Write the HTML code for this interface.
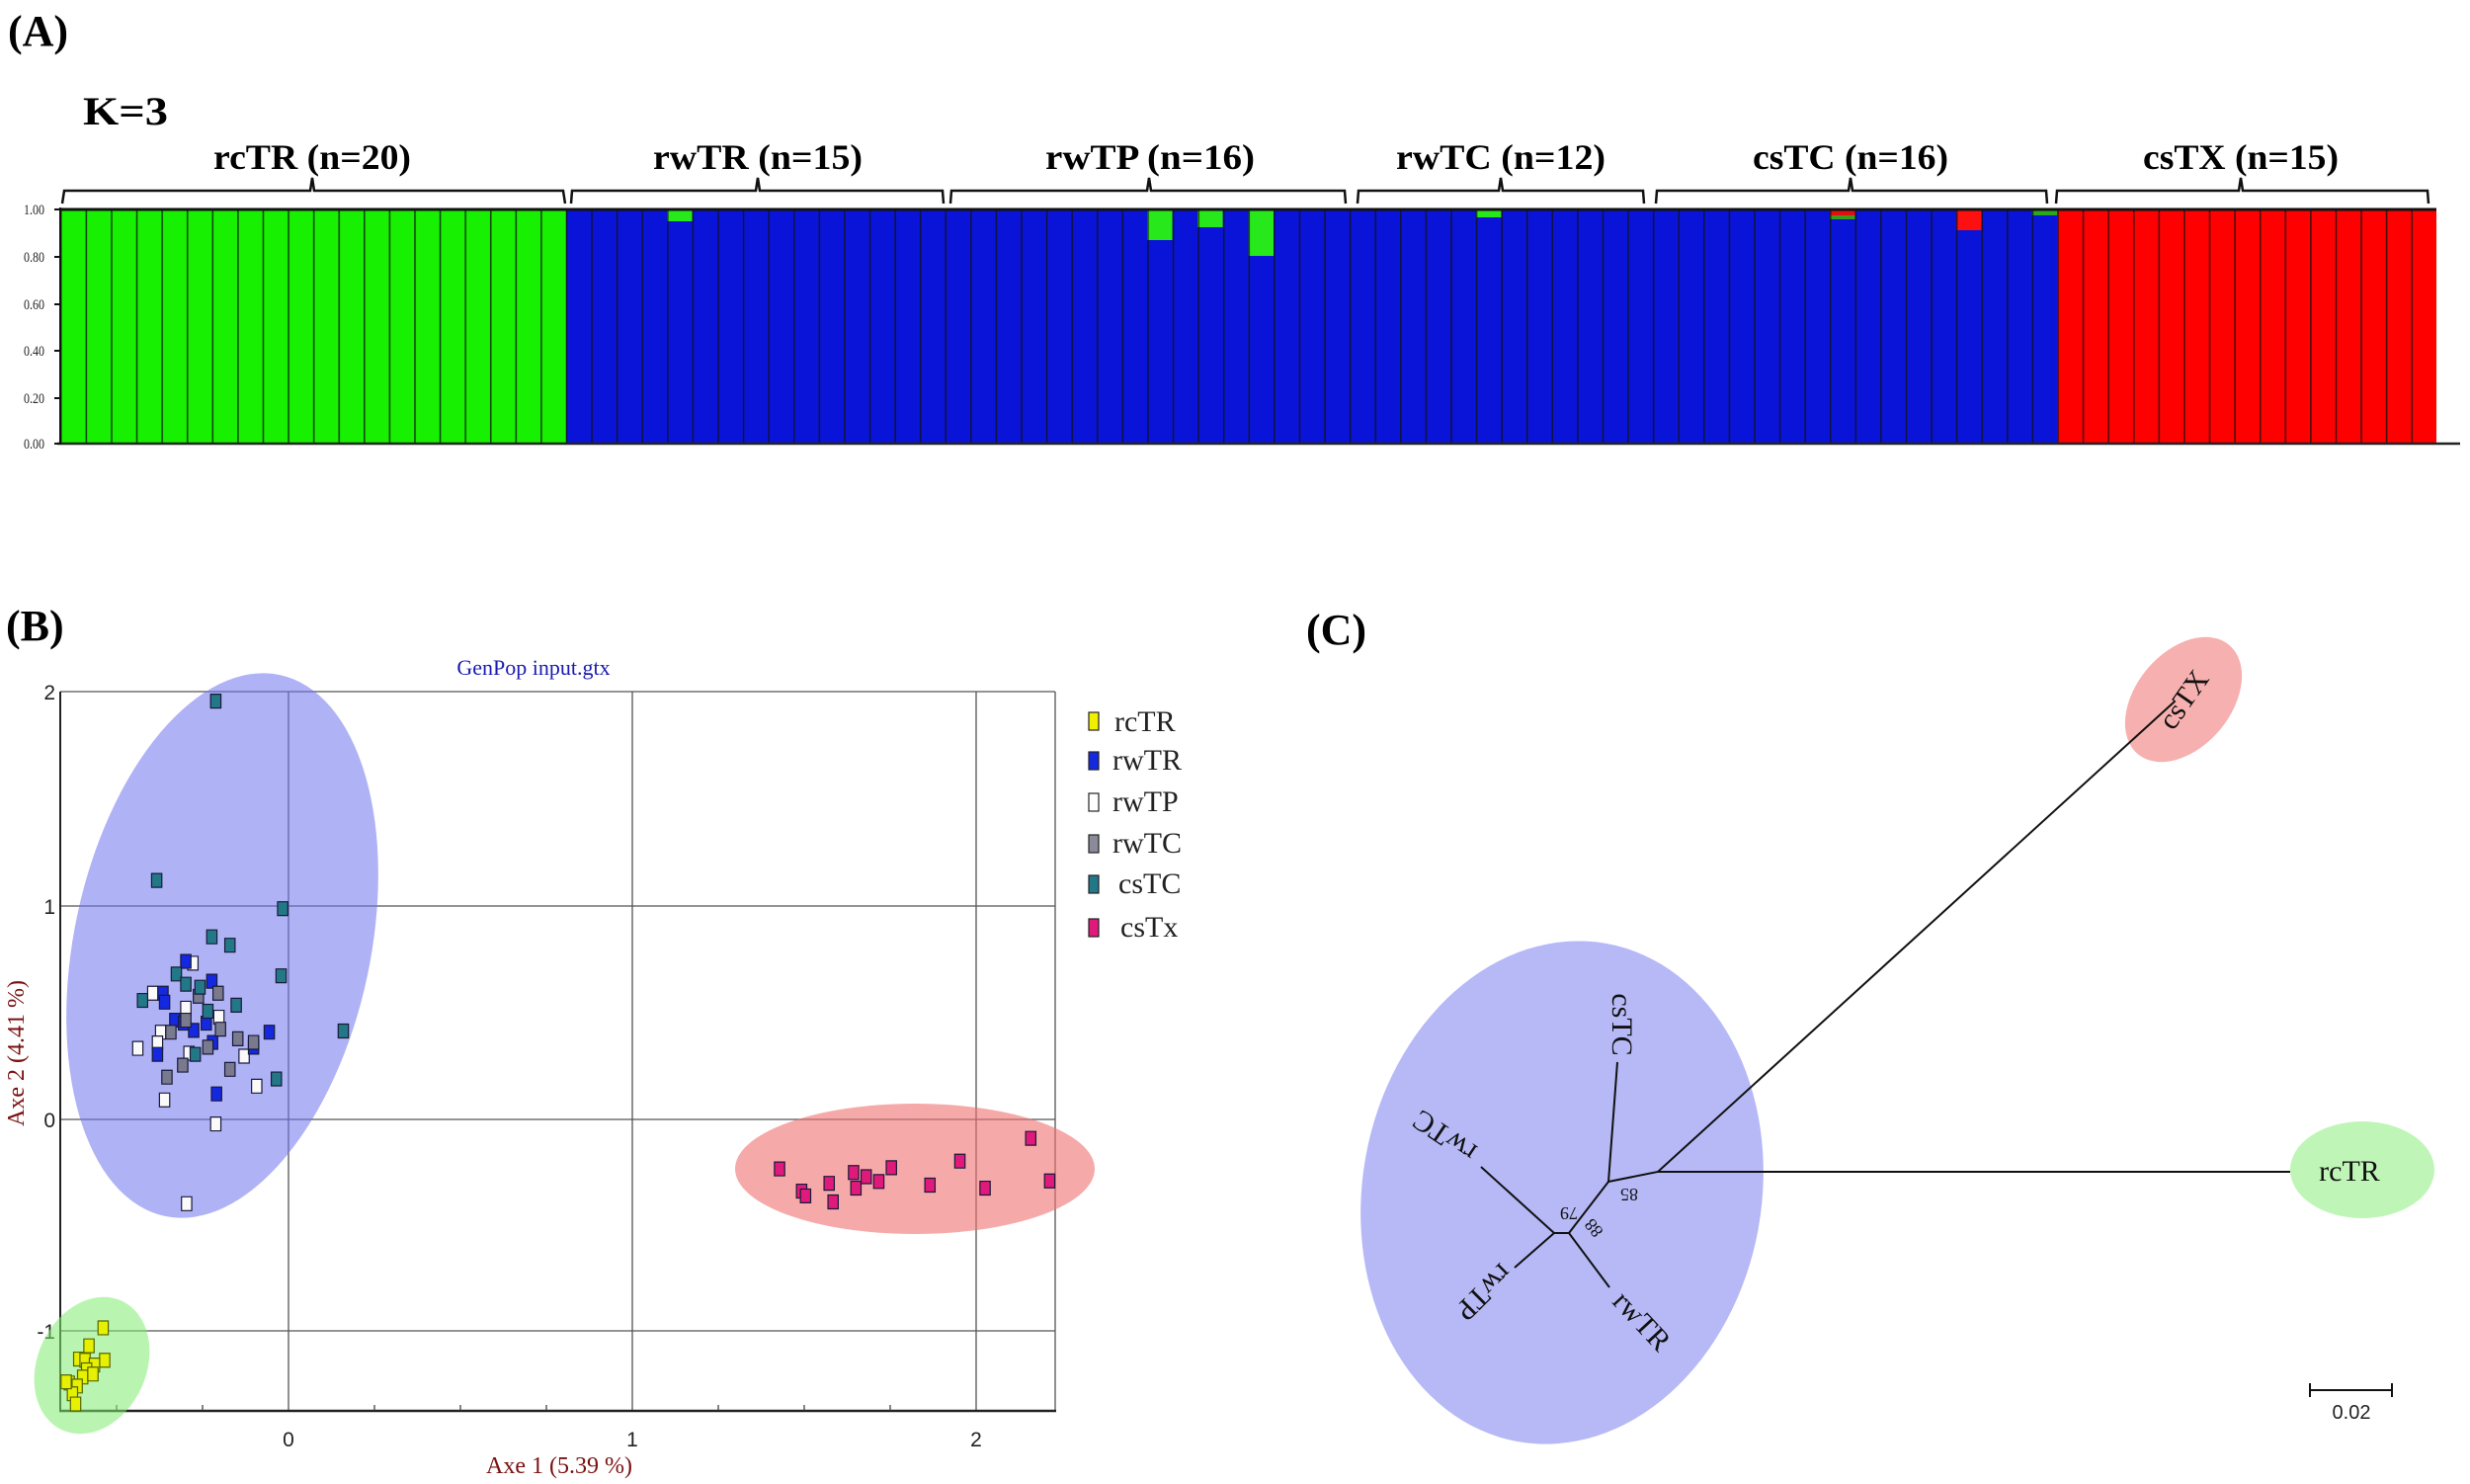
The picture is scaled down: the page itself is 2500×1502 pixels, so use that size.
<!DOCTYPE html>
<html><head><meta charset="utf-8"><style>
html,body{margin:0;padding:0;background:#fff;}
svg{display:block;}
.s{font-family:"Liberation Serif",serif;}
.a{font-family:"Liberation Sans",sans-serif;}
</style></head><body>
<svg width="2500" height="1502" viewBox="0 0 2500 1502" xmlns="http://www.w3.org/2000/svg">
<defs>
<pattern id="sep" patternUnits="userSpaceOnUse" x="61" y="0" width="25.585" height="10">
<rect x="0" y="0" width="1.6" height="10" fill="#111"/>
</pattern>
</defs>
<!-- Panel A -->
<text x="8" y="46" class="s" font-size="44" font-weight="bold">(A)</text>
<text x="84" y="126" class="s" font-size="40" font-weight="bold" textLength="86" lengthAdjust="spacingAndGlyphs">K=3</text>
<g class="s" font-size="36" font-weight="bold" text-anchor="middle">
<text x="316" y="171" textLength="200" lengthAdjust="spacingAndGlyphs">rcTR (n=20)</text>
<text x="767" y="171" textLength="212" lengthAdjust="spacingAndGlyphs">rwTR (n=15)</text>
<text x="1164" y="171" textLength="212" lengthAdjust="spacingAndGlyphs">rwTP (n=16)</text>
<text x="1519" y="171" textLength="212" lengthAdjust="spacingAndGlyphs">rwTC (n=12)</text>
<text x="1873" y="171" textLength="198" lengthAdjust="spacingAndGlyphs">csTC (n=16)</text>
<text x="2268" y="171" textLength="198" lengthAdjust="spacingAndGlyphs">csTX (n=15)</text>
</g>
<g fill="none" stroke="#111" stroke-width="2.5">
<path d="M63 206 L65 193 L314 193 L316 180 L318 193 L570 193 L572 206"/>
<path d="M578 206 L579 193 L765 193 L767 180 L769 193 L954 193 L955 206"/>
<path d="M962 206 L963 193 L1161 193 L1163 180 L1165 193 L1361 193 L1362 206"/>
<path d="M1374 206 L1375 193 L1517 193 L1519 180 L1521 193 L1663 193 L1664 206"/>
<path d="M1676 206 L1677 193 L1871 193 L1873 180 L1875 193 L2071 193 L2072 206"/>
<path d="M2081 206 L2082 193 L2266 193 L2268 180 L2270 193 L2457 193 L2458 206"/>
</g>
<rect x="61" y="212" width="512" height="237" fill="#17f000"/>
<rect x="573" y="212" width="1509" height="237" fill="#0a14d8"/>
<rect x="2082" y="212" width="384" height="237" fill="#ff0000"/>
<!-- patches -->
<rect x="675" y="212" width="25.6" height="12" fill="#27e81a"/>
<rect x="1161" y="212" width="25.6" height="31" fill="#27e81a"/>
<rect x="1212" y="212" width="25.6" height="18" fill="#27e81a"/>
<rect x="1263.5" y="212" width="25.6" height="47" fill="#27e81a"/>
<rect x="1494" y="213" width="25.6" height="7" fill="#27e81a"/>
<rect x="1852" y="212" width="25.6" height="6" fill="#e01010"/>
<rect x="1852" y="218" width="25.6" height="4" fill="#3a9a1a"/>
<rect x="1980" y="212" width="25.6" height="21" fill="#ff1010"/>
<rect x="2056.6" y="213" width="25.6" height="5" fill="#2aa820"/>
<rect x="61" y="212" width="2405" height="237" fill="url(#sep)" opacity="0.75"/>
<line x1="61" y1="212" x2="2466" y2="212" stroke="#111" stroke-width="3"/>
<line x1="58" y1="449" x2="2490" y2="449" stroke="#222" stroke-width="2.5"/>
<line x1="61" y1="210" x2="61" y2="450" stroke="#111" stroke-width="2"/>
<g stroke="#111" stroke-width="2">
<line x1="55" y1="212" x2="61" y2="212"/><line x1="55" y1="260" x2="61" y2="260"/>
<line x1="55" y1="308" x2="61" y2="308"/><line x1="55" y1="355" x2="61" y2="355"/>
<line x1="55" y1="403" x2="61" y2="403"/><line x1="55" y1="449" x2="61" y2="449"/>
</g>
<g class="s" font-size="15" fill="#222">
<text x="24" y="217" textLength="21" lengthAdjust="spacingAndGlyphs">1.00</text>
<text x="24" y="265" textLength="21" lengthAdjust="spacingAndGlyphs">0.80</text>
<text x="24" y="313" textLength="21" lengthAdjust="spacingAndGlyphs">0.60</text>
<text x="24" y="360" textLength="21" lengthAdjust="spacingAndGlyphs">0.40</text>
<text x="24" y="408" textLength="21" lengthAdjust="spacingAndGlyphs">0.20</text>
<text x="24" y="454" textLength="21" lengthAdjust="spacingAndGlyphs">0.00</text>
</g>

<!-- Panel B -->
<text x="6" y="648" class="s" font-size="44" font-weight="bold">(B)</text>
<text x="540" y="683" class="s" font-size="22" fill="#1a1ab0" text-anchor="middle">GenPop input.gtx</text>
<g stroke="#555" stroke-width="1.3">
<line x1="61" y1="700" x2="1068" y2="700"/>
<line x1="61" y1="917" x2="1068" y2="917"/>
<line x1="61" y1="1133" x2="1068" y2="1133"/>
<line x1="61" y1="1347" x2="1068" y2="1347"/>
<line x1="292" y1="700" x2="292" y2="1428"/>
<line x1="640" y1="700" x2="640" y2="1428"/>
<line x1="988" y1="700" x2="988" y2="1428"/>
<line x1="1068" y1="700" x2="1068" y2="1428"/>
</g>
<line x1="61" y1="700" x2="61" y2="1429" stroke="#222" stroke-width="2"/>
<line x1="60" y1="1428" x2="1069" y2="1428" stroke="#222" stroke-width="2.5"/>
<g stroke="#333" stroke-width="1.2">
<line x1="118" y1="1428" x2="118" y2="1422"/><line x1="205" y1="1428" x2="205" y2="1422"/>
<line x1="379" y1="1428" x2="379" y2="1422"/><line x1="466" y1="1428" x2="466" y2="1422"/><line x1="553" y1="1428" x2="553" y2="1422"/>
<line x1="727" y1="1428" x2="727" y2="1422"/><line x1="814" y1="1428" x2="814" y2="1422"/><line x1="901" y1="1428" x2="901" y2="1422"/>
</g>
<g class="a" font-size="21" fill="#222">
<text x="292" y="1464" text-anchor="middle">0</text>
<text x="640" y="1464" text-anchor="middle">1</text>
<text x="988" y="1464" text-anchor="middle">2</text>
<text x="56" y="708" text-anchor="end">2</text>
<text x="56" y="925" text-anchor="end">1</text>
<text x="56" y="1141" text-anchor="end">0</text>
<text x="56" y="1355" text-anchor="end">-1</text>
</g>
<text x="566" y="1491" class="s" font-size="24" fill="#7a1010" text-anchor="middle">Axe 1 (5.39 %)</text>
<text transform="translate(24,1066) rotate(-90)" class="s" font-size="24" fill="#7a1010" text-anchor="middle">Axe 2 (4.41 %)</text>
<ellipse cx="225" cy="957" rx="150" ry="280" transform="rotate(12 225 957)" fill="#6e74ee" fill-opacity="0.55"/>
<ellipse cx="926" cy="1183" rx="182" ry="66" fill="#f07070" fill-opacity="0.6"/>
<ellipse cx="93" cy="1382" rx="55" ry="72" transform="rotate(25 93 1382)" fill="#80ec70" fill-opacity="0.55"/>
<g transform="translate(0,550) scale(0.797,0.607)" stroke="#1a1a3a" stroke-width="1.2">
<g fill="#e01a7a">
<rect x="983.5" y="1031.5" width="13" height="23" vector-effect="non-scaling-stroke"/>
<rect x="1011.5" y="1068.5" width="13" height="23" vector-effect="non-scaling-stroke"/>
<rect x="1016.5" y="1076.5" width="13" height="23" vector-effect="non-scaling-stroke"/>
<rect x="1046.5" y="1055.5" width="13" height="23" vector-effect="non-scaling-stroke"/>
<rect x="1051.5" y="1086.5" width="13" height="23" vector-effect="non-scaling-stroke"/>
<rect x="1077.5" y="1037.5" width="13" height="23" vector-effect="non-scaling-stroke"/>
<rect x="1080.5" y="1063.5" width="13" height="23" vector-effect="non-scaling-stroke"/>
<rect x="1093.5" y="1044.5" width="13" height="23" vector-effect="non-scaling-stroke"/>
<rect x="1109.5" y="1052.5" width="13" height="23" vector-effect="non-scaling-stroke"/>
<rect x="1125.5" y="1029.5" width="13" height="23" vector-effect="non-scaling-stroke"/>
<rect x="1174.5" y="1058.5" width="13" height="23" vector-effect="non-scaling-stroke"/>
<rect x="1212.5" y="1018.5" width="13" height="23" vector-effect="non-scaling-stroke"/>
<rect x="1244.5" y="1063.5" width="13" height="23" vector-effect="non-scaling-stroke"/>
<rect x="1302.5" y="980.5" width="13" height="23" vector-effect="non-scaling-stroke"/>
<rect x="1326.5" y="1051.5" width="13" height="23" vector-effect="non-scaling-stroke"/>
</g>
<g fill="#e6f000" stroke="#556600">
<rect x="124.5" y="1296.5" width="13" height="23" vector-effect="non-scaling-stroke"/>
<rect x="106.5" y="1326.5" width="13" height="23" vector-effect="non-scaling-stroke"/>
<rect x="93.5" y="1348.5" width="13" height="23" vector-effect="non-scaling-stroke"/>
<rect x="101.5" y="1350.5" width="13" height="23" vector-effect="non-scaling-stroke"/>
<rect x="126.5" y="1350.5" width="13" height="23" vector-effect="non-scaling-stroke"/>
<rect x="113.5" y="1358.5" width="13" height="23" vector-effect="non-scaling-stroke"/>
<rect x="103.5" y="1366.5" width="13" height="23" vector-effect="non-scaling-stroke"/>
<rect x="98.5" y="1378.5" width="13" height="23" vector-effect="non-scaling-stroke"/>
<rect x="111.5" y="1373.5" width="13" height="23" vector-effect="non-scaling-stroke"/>
<rect x="81.5" y="1388.5" width="13" height="23" vector-effect="non-scaling-stroke"/>
<rect x="91.5" y="1393.5" width="13" height="23" vector-effect="non-scaling-stroke"/>
<rect x="85.5" y="1406.5" width="13" height="23" vector-effect="non-scaling-stroke"/>
<rect x="89.5" y="1423.5" width="13" height="23" vector-effect="non-scaling-stroke"/>
<rect x="77.5" y="1386.5" width="13" height="23" vector-effect="non-scaling-stroke"/>
</g>
<g fill="#fafafa">
<rect x="238.5" y="688.5" width="13" height="23" vector-effect="non-scaling-stroke"/>
<rect x="187.5" y="738.5" width="13" height="23" vector-effect="non-scaling-stroke"/>
<rect x="229.5" y="763.5" width="13" height="23" vector-effect="non-scaling-stroke"/>
<rect x="271.5" y="778.5" width="13" height="23" vector-effect="non-scaling-stroke"/>
<rect x="168.5" y="830.5" width="13" height="23" vector-effect="non-scaling-stroke"/>
<rect x="197.5" y="803.5" width="13" height="23" vector-effect="non-scaling-stroke"/>
<rect x="319.5" y="893.5" width="13" height="23" vector-effect="non-scaling-stroke"/>
<rect x="202.5" y="916.5" width="13" height="23" vector-effect="non-scaling-stroke"/>
<rect x="267.5" y="956.5" width="13" height="23" vector-effect="non-scaling-stroke"/>
<rect x="230.5" y="1089.5" width="13" height="23" vector-effect="non-scaling-stroke"/>
<rect x="303.5" y="843.5" width="13" height="23" vector-effect="non-scaling-stroke"/>
<rect x="193.5" y="821.5" width="13" height="23" vector-effect="non-scaling-stroke"/>
<rect x="233.5" y="838.5" width="13" height="23" vector-effect="non-scaling-stroke"/>
</g>
<g fill="#1428e0">
<rect x="229.5" y="685.5" width="13" height="23" vector-effect="non-scaling-stroke"/>
<rect x="200.5" y="738.5" width="13" height="23" vector-effect="non-scaling-stroke"/>
<rect x="202.5" y="753.5" width="13" height="23" vector-effect="non-scaling-stroke"/>
<rect x="262.5" y="718.5" width="13" height="23" vector-effect="non-scaling-stroke"/>
<rect x="215.5" y="783.5" width="13" height="23" vector-effect="non-scaling-stroke"/>
<rect x="239.5" y="800.5" width="13" height="23" vector-effect="non-scaling-stroke"/>
<rect x="193.5" y="840.5" width="13" height="23" vector-effect="non-scaling-stroke"/>
<rect x="268.5" y="906.5" width="13" height="23" vector-effect="non-scaling-stroke"/>
<rect x="335.5" y="803.5" width="13" height="23" vector-effect="non-scaling-stroke"/>
<rect x="315.5" y="828.5" width="13" height="23" vector-effect="non-scaling-stroke"/>
<rect x="255.5" y="788.5" width="13" height="23" vector-effect="non-scaling-stroke"/>
<rect x="226.5" y="788.5" width="13" height="23" vector-effect="non-scaling-stroke"/>
<rect x="263.5" y="820.5" width="13" height="23" vector-effect="non-scaling-stroke"/>
</g>
<g fill="#7a7a8e">
<rect x="270.5" y="738.5" width="13" height="23" vector-effect="non-scaling-stroke"/>
<rect x="245.5" y="743.5" width="13" height="23" vector-effect="non-scaling-stroke"/>
<rect x="210.5" y="803.5" width="13" height="23" vector-effect="non-scaling-stroke"/>
<rect x="225.5" y="858.5" width="13" height="23" vector-effect="non-scaling-stroke"/>
<rect x="205.5" y="878.5" width="13" height="23" vector-effect="non-scaling-stroke"/>
<rect x="257.5" y="828.5" width="13" height="23" vector-effect="non-scaling-stroke"/>
<rect x="295.5" y="814.5" width="13" height="23" vector-effect="non-scaling-stroke"/>
<rect x="285.5" y="865.5" width="13" height="23" vector-effect="non-scaling-stroke"/>
<rect x="315.5" y="820.5" width="13" height="23" vector-effect="non-scaling-stroke"/>
<rect x="229.5" y="783.5" width="13" height="23" vector-effect="non-scaling-stroke"/>
<rect x="273.5" y="798.5" width="13" height="23" vector-effect="non-scaling-stroke"/>
</g>
<g fill="#237888">
<rect x="267.5" y="251.5" width="13" height="23" vector-effect="non-scaling-stroke"/>
<rect x="192.5" y="550.5" width="13" height="23" vector-effect="non-scaling-stroke"/>
<rect x="352.5" y="597.5" width="13" height="23" vector-effect="non-scaling-stroke"/>
<rect x="262.5" y="644.5" width="13" height="23" vector-effect="non-scaling-stroke"/>
<rect x="285.5" y="658.5" width="13" height="23" vector-effect="non-scaling-stroke"/>
<rect x="350.5" y="709.5" width="13" height="23" vector-effect="non-scaling-stroke"/>
<rect x="217.5" y="706.5" width="13" height="23" vector-effect="non-scaling-stroke"/>
<rect x="174.5" y="750.5" width="13" height="23" vector-effect="non-scaling-stroke"/>
<rect x="229.5" y="723.5" width="13" height="23" vector-effect="non-scaling-stroke"/>
<rect x="247.5" y="728.5" width="13" height="23" vector-effect="non-scaling-stroke"/>
<rect x="293.5" y="758.5" width="13" height="23" vector-effect="non-scaling-stroke"/>
<rect x="429.5" y="801.5" width="13" height="23" vector-effect="non-scaling-stroke"/>
<rect x="344.5" y="881.5" width="13" height="23" vector-effect="non-scaling-stroke"/>
<rect x="257.5" y="768.5" width="13" height="23" vector-effect="non-scaling-stroke"/>
<rect x="241.5" y="840.5" width="13" height="23" vector-effect="non-scaling-stroke"/>
</g>
</g>
<!-- legend -->
<g stroke="#222" stroke-width="1.2">
<rect x="1102" y="721" width="10" height="18" fill="#f0f000"/>
<rect x="1102" y="761" width="10" height="18" fill="#1428e0"/>
<rect x="1102" y="803" width="10" height="18" fill="#fff"/>
<rect x="1102" y="845" width="10" height="18" fill="#8a8a98"/>
<rect x="1102" y="886" width="10" height="18" fill="#237888"/>
<rect x="1102" y="930" width="10" height="18" fill="#e01a7a"/>
</g>
<g class="s" font-size="30" fill="#222">
<text x="1128" y="740">rcTR</text>
<text x="1126" y="779">rwTR</text>
<text x="1126" y="821">rwTP</text>
<text x="1126" y="863">rwTC</text>
<text x="1132" y="904">csTC</text>
<text x="1134" y="948">csTx</text>
</g>

<!-- Panel C -->
<text x="1322" y="652" class="s" font-size="44" font-weight="bold">(C)</text>
<ellipse cx="1581" cy="1207" rx="202" ry="256" transform="rotate(10 1581 1207)" fill="#7a80ee" fill-opacity="0.55"/>
<ellipse cx="2210" cy="708" rx="72" ry="48" transform="rotate(-50 2210 708)" fill="#f07070" fill-opacity="0.55"/>
<ellipse cx="2391" cy="1184" rx="73" ry="49" fill="#80ec70" fill-opacity="0.5"/>
<g stroke="#111" stroke-width="2" fill="none">
<path d="M1499 1181 L1573 1248 L1533 1283"/>
<path d="M1573 1248 L1588 1248 L1629 1303"/>
<path d="M1588 1248 L1628 1196 L1637 1075"/>
<path d="M1628 1196 L1678 1186 L2201 710"/>
<path d="M1678 1186 L2318 1186"/>
<path d="M2338 1407 L2421 1407 M2338 1400 L2338 1414 M2421 1400 L2421 1414"/>
</g>
<g class="s" font-size="30" fill="#111" text-anchor="middle">
<text transform="translate(1642,1037) rotate(90)" dy="10">csTC</text>
<text transform="translate(1462,1150) rotate(214)" dy="10">rwTC</text>
<text transform="translate(1502,1308) rotate(135)" dy="10">rwTP</text>
<text transform="translate(1662,1337) rotate(47)" dy="10">rwTR</text>
<text transform="translate(2210,708) rotate(-55)" dy="10">csTX</text>
<text x="2378" y="1195">rcTR</text>
</g>
<g class="s" font-size="18" fill="#111" text-anchor="middle">
<text transform="translate(1649,1209) rotate(180)" dy="6">85</text>
<text transform="translate(1588,1228) rotate(180)" dy="6">79</text>
<text transform="translate(1613,1243) rotate(230)" dy="6">88</text>
</g>
<text x="2380" y="1436" class="a" font-size="20" fill="#222" text-anchor="middle">0.02</text>
</svg>
</body></html>
